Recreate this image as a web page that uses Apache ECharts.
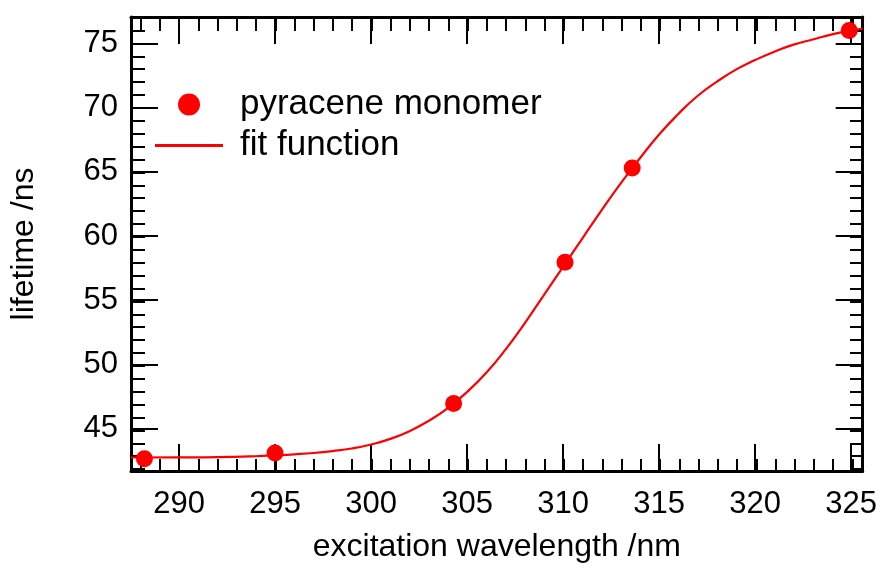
<!DOCTYPE html>
<html>
<head>
<meta charset="utf-8">
<script src="https://cdn.jsdelivr.net/npm/echarts@6/dist/echarts.min.js"></script>
<style>
  html, body { margin: 0; padding: 0; background: #fff; }
  #chart { width: 880px; height: 568px; }
</style>
</head>
<body>
<div id="chart"></div>
<script>
// measured points
const wavelength = [288.2, 295.0, 304.3, 310.1, 313.6, 324.9];
const lifetime = [42.65, 43.1, 46.95, 57.95, 65.3, 76.0];

// fit curve
const fitX = [287.5, 290, 292, 294, 295, 296, 297, 298, 299, 300, 301, 302, 303, 304, 305,
  306, 307, 308, 309, 310, 311, 312, 313, 314, 315, 316, 317, 318, 319, 320, 321, 322,
  323, 324, 325, 325.6];
const fitY = [42.75, 42.76, 42.78, 42.85, 42.92, 43.0, 43.1, 43.25, 43.45, 43.76, 44.2, 44.8,
  45.6, 46.6, 47.85, 49.35, 51.15, 53.2, 55.4, 57.6, 59.8, 62.0, 64.1, 66.05, 67.9, 69.5,
  70.9, 72.0, 72.95, 73.7, 74.35, 74.9, 75.3, 75.7, 76.0, 76.15];

// tick labels
const xMajor = [290, 295, 300, 305, 310, 315, 320, 325];
const yMajor = [45, 50, 55, 60, 65, 70, 75];
const xMinor = [];
for (let v = 288; v <= 325; v++) xMinor.push(v);
const yMinor = [];
for (let v = 42; v <= 77; v++) yMinor.push(v);

const xRange = [287.5, 325.6];
const yRange = [41.7, 77.05];

const font = 'Liberation Sans, Arial, sans-serif';
const gridBox = { left: 131, top: 17, right: 16, bottom: 95 };

function makeAxis(kind, grid, position, ticks, len, showLine, labels) {
  const range = kind === 'x' ? xRange : yRange;
  return {
    type: 'value',
    gridIndex: grid,
    position: position,
    min: range[0],
    max: range[1],
    splitLine: { show: false },
    axisLine: { show: showLine, onZero: false, lineStyle: { color: '#000', width: 3 } },
    axisTick: { show: true, inside: true, length: len, customValues: ticks, lineStyle: { color: '#000', width: 2 } },
    axisLabel: labels
      ? { show: true, customValues: labels, color: '#000', fontSize: 31, fontFamily: font, margin: kind === 'x' ? 18 : 13 }
      : { show: false }
  };
}

const xAxes = [
  makeAxis('x', 0, 'bottom', xMajor, 27, true, xMajor),
  makeAxis('x', 0, 'top', xMajor, 27, true, null),
  makeAxis('x', 1, 'bottom', xMinor, 14, false, null),
  makeAxis('x', 1, 'top', xMinor, 14, false, null)
];
Object.assign(xAxes[0], {
  name: 'excitation wavelength /nm',
  nameLocation: 'middle',
  nameGap: 60,
  nameTextStyle: { color: '#000', fontSize: 32, fontFamily: font }
});

const yAxes = [
  makeAxis('y', 0, 'left', yMajor, 27, true, yMajor),
  makeAxis('y', 0, 'right', yMajor, 27, true, null),
  makeAxis('y', 1, 'left', yMinor, 14, false, null),
  makeAxis('y', 1, 'right', yMinor, 14, false, null)
];
Object.assign(yAxes[0], {
  name: 'lifetime /ns',
  nameLocation: 'middle',
  nameGap: 91,
  nameTextStyle: { color: '#000', fontSize: 32, fontFamily: font }
});

const chart = echarts.init(document.getElementById('chart'));
chart.setOption({
  animation: false,
  backgroundColor: '#fff',
  grid: [Object.assign({}, gridBox), Object.assign({}, gridBox)],
  xAxis: xAxes,
  yAxis: yAxes,
  legend: {
    orient: 'vertical',
    left: 155,
    top: 87,
    padding: 0,
    itemWidth: 68,
    itemHeight: 22,
    itemGap: 6,
    data: [
      { name: 'pyracene monomer', icon: 'circle' },
      { name: 'fit function', icon: 'path://M0,0 L68,0 L68,3 L0,3 Z' }
    ],
    textStyle: { color: '#000', fontSize: 35, fontFamily: font, lineHeight: 35, padding: [0, 0, 0, 12] }
  },
  series: [
    {
      name: 'fit function',
      type: 'line',
      xAxisIndex: 0,
      yAxisIndex: 0,
      smooth: true,
      showSymbol: false,
      symbol: 'none',
      color: '#ff0000',
      lineStyle: { color: '#ff0000', width: 2.2 },
      data: fitX.map((x, i) => [x, fitY[i]]),
      z: 2
    },
    {
      name: 'pyracene monomer',
      type: 'scatter',
      xAxisIndex: 0,
      yAxisIndex: 0,
      symbol: 'circle',
      symbolSize: 17,
      itemStyle: { color: '#ff0000', opacity: 1 },
      data: wavelength.map((x, i) => [x, lifetime[i]]),
      z: 3
    }
  ]
});
</script>
</body>
</html>
